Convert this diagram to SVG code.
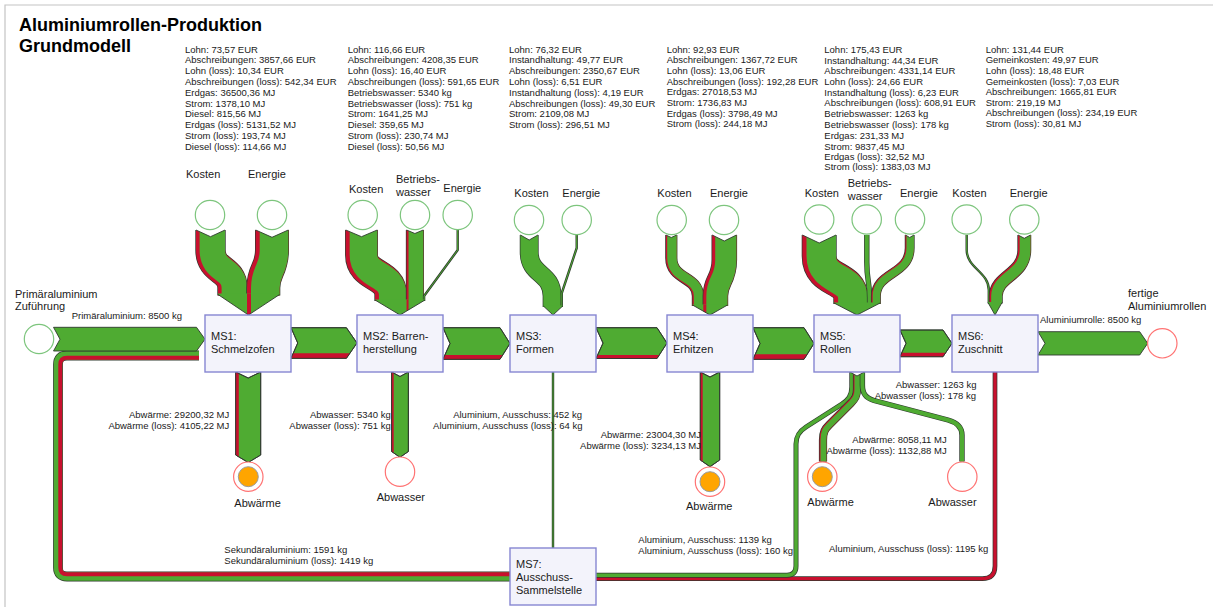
<svg xmlns="http://www.w3.org/2000/svg" width="1213" height="607" viewBox="0 0 1213 607">
<style>
text{font-family:"Liberation Sans",Arial,sans-serif;fill:#1a1a1a}
.s{font-size:9.5px}
.n{font-size:11px}
.ttl{font-size:18px;font-weight:bold;fill:#000}
.e{text-anchor:end}
.box{fill:#f3f3fb;stroke:#8686d2;stroke-width:1.4}
.cg{fill:#fff;stroke:#7dc57d;stroke-width:1.2}
.cr{fill:#fff;stroke:#ff7373;stroke-width:1.2}
.hot{fill:#ffa500;stroke:#9a9a9a;stroke-width:1}
.po{fill:#4fab32;stroke:#2f3a2f;stroke-width:0.9;stroke-linejoin:round}
.o{fill:none;stroke:#2f3a2f;stroke-width:0.9;stroke-linejoin:round}
.rd{fill:#c8102e}
.gf{fill:#4fab32}
.sk{fill:none;stroke:#2f3a2f;stroke-linejoin:round}
.sg{fill:none;stroke:#4fab32;stroke-linejoin:round}
.sr{fill:none;stroke:#c8102e;stroke-linejoin:round}
.wn{fill:#fff}
.fr{fill:none;stroke:#c4c4c4;stroke-width:1.2}
</style>
<defs>
<path id="sek" d="M510,576.5 L67,576.5 Q58,576.5 58,567.5 L58,364.5 Q58,355.5 67,355.5 L199,355.5"/>
<path id="sekr" d="M510,574.25 L67,574.25 Q60.25,574.25 60.25,567.5 L60.25,364.5 Q60.25,357.75 67,357.75 L199,357.75"/>
<path id="r6" d="M995,372 L995,566 Q995,578.7 982.3,578.7 L596,578.7"/>
<path id="a5" d="M851.8,372 L851.8,387 C851.8,396 848,400 842,404 L806,427 C799,431.5 796,436 796,444 L796,566 Q796,575.2 787,575.2 L596,575.2"/>
<path id="h5" d="M857,372 L857,389 C857,396 855,399 851,403 L829,425 C825,429 823,432 823,440 L823,461.5"/>
<path id="s5" d="M862.4,372 L862.4,385 C862.4,394 866,398 874,400.5 L948,420 C957,422.5 962,427 962,435 L962,461.5"/>
<path id="m3" d="M553,372 L553,548"/>
<path id="k1" d="M210.5,230 L210.5,250 C210.5,272 232.5,268 232.5,288 L232.5,295.5"/>
<path id="e1" d="M272,230 L272,250 C272,270 263.3,270 263.3,288 L263.3,295.5"/>
<path id="k2" d="M361.5,230 L361.5,255 C361.5,277 390.8,273 390.8,295 L390.8,301"/>
<path id="w2" d="M414.9,230 L414.9,301"/>
<path id="e2" d="M457.7,230 L457.7,250 L424.1,296 L424.1,301"/>
<path id="k3" d="M529.2,235 L529.2,252 C529.2,276 552.1,272 552.1,296 L552.1,307"/>
<path id="e3" d="M576.7,235 L576.7,248 L561.8,293 L561.8,307"/>
<path id="k4" d="M671.3,235 L671.3,258 C671.3,280 697.9,276 697.9,296 L697.9,306"/>
<path id="e4" d="M724.3,235 L724.3,260 C724.3,280 715.4,280 715.4,296 L715.4,306"/>
<path id="k5" d="M819.2,235 L819.2,256 C819.2,282 850.8,276 850.8,298 L850.8,304"/>
<path id="w5" d="M866.8,235 L866.8,262 C866.8,282 869.6,280 869.6,298 L869.6,304"/>
<path id="e5" d="M909.7,235 L909.7,248 C909.7,275 875.9,272 875.9,296 L875.9,304"/>
<path id="k6" d="M966.7,235 L966.7,250 C966.7,268 988.8,272 988.8,290 L988.8,303.5"/>
<path id="e6" d="M1024.3,235 L1024.3,250 C1024.3,275 995.8,276 995.8,296 L995.8,303.5"/>
<polygon id="hp" points="53.5,327.3 196.5,327.3 205,339.2 196.5,351 53.5,351 60,339.2"/>
<polygon id="h12" points="291,327.7 346.4,327.7 357,343 346.4,358.3 291,358.3 297.7,343"/>
<polygon id="h23" points="443,327.7 500,327.7 510,343.5 500,359.3 443,359.3 450,343.5"/>
<polygon id="h34" points="596,327.7 657,327.7 667,343.1 657,358.5 596,358.5 603,343.1"/>
<polygon id="h45" points="753,327.7 804,327.7 814,343.5 804,359.3 753,359.3 760,343.5"/>
<polygon id="h56" points="900,330 943,330 952,343.35 943,356.7 900,356.7 906,343.35"/>
<polygon id="h6o" points="1038,331.7 1139.7,331.7 1147.7,343.35 1139.7,355 1038,355 1045,343.35"/>
<polygon id="v1" points="235.7,372 248.2,378 260.7,372 260.7,455 248.2,462.5 235.7,455"/>
<polygon id="v2" points="391.6,372 400,376.5 408.4,372 408.4,451.5 400,457.3 391.6,451.5"/>
<polygon id="v4" points="700.3,372 710,377 719.7,372 719.7,460 710,466.7 700.3,460"/>
</defs>

<path class="fr" d="M5,607 V5 H1213"/>
<text class="ttl" x="19" y="31">Aluminiumrollen-Produktion</text>
<text class="ttl" x="19" y="52">Grundmodell</text>

<g id="connectors">
<use href="#sek" class="sk" stroke-width="9.8"/>
<use href="#sek" class="sg" stroke-width="8.4"/>
<use href="#sekr" class="sr" stroke-width="3.9"/>
<use href="#r6" class="sk" stroke-width="4.7"/>
<use href="#r6" class="sr" stroke-width="3.3"/>
<use href="#a5" class="sk" stroke-width="5"/>
<use href="#a5" class="sg" stroke-width="3.6"/>
<use href="#m3" class="sk" stroke-width="2.4"/>
<use href="#m3" class="sg" stroke-width="1"/>

<use href="#hp" class="po"/>
<use href="#h12" class="po"/>
<polygon class="rd" points="293.2,353.3 349.9,353.3 346.4,358.3 291,358.3"/>
<use href="#h12" class="o"/>
<use href="#h23" class="po"/>
<polygon class="rd" points="444.9,355 502.7,355 500,359.3 443,359.3"/>
<use href="#h23" class="o"/>
<use href="#h34" class="po"/>
<polygon class="rd" points="597.6,355 659.3,355 657,358.5 596,358.5"/>
<use href="#h34" class="o"/>
<use href="#h45" class="po"/>
<polygon class="rd" points="755.2,354.3 807.2,354.3 804,359.3 753,359.3"/>
<use href="#h45" class="o"/>
<use href="#h56" class="po"/>
<polygon class="rd" points="901.8,352.7 945.7,352.7 943,356.7 900,356.7"/>
<use href="#h56" class="o"/>
<use href="#h6o" class="po"/>

<use href="#k1" class="sk" stroke-width="30.4"/>
<use href="#k1" class="sr" stroke-width="29"/>
<use href="#k1" class="sg" stroke-width="25.4" transform="translate(1.8 0)"/>
<use href="#e1" class="sk" stroke-width="34"/>
<use href="#e1" class="sr" stroke-width="32.6"/>
<use href="#e1" class="sg" stroke-width="28.6" transform="translate(2 0)"/>
<polygon class="gf" points="218,293.5 279.6,293.5 279.6,294.5 248.5,315 218,294.5"/>
<polygon class="rd" points="247,293.5 251,293.5 251,313.35 248.5,315 247,314"/>
<polyline class="o" points="218,294.5 248.5,315 279.6,294.5"/>
<polygon class="wn" points="196,230 210.5,236.7 225,230"/>
<polyline class="o" points="196,230 210.5,236.7 225,230"/>
<polygon class="wn" points="255.7,230 272,237.3 288.3,230"/>
<polyline class="o" points="255.7,230 272,237.3 288.3,230"/>

<use href="#k2" class="sk" stroke-width="32.9"/>
<use href="#k2" class="sr" stroke-width="31.5"/>
<use href="#k2" class="sg" stroke-width="27.6" transform="translate(1.95 0)"/>
<use href="#w2" class="sk" stroke-width="18.1"/>
<use href="#w2" class="sr" stroke-width="16.7"/>
<use href="#w2" class="sg" stroke-width="14.7" transform="translate(1 0)"/>
<use href="#e2" class="sk" stroke-width="2.4"/>
<use href="#e2" class="sg" stroke-width="1"/>
<polygon class="gf" points="375,299.5 425,299.5 425,300 400,315 375,300"/>
<polygon class="rd" points="406.55,299.5 408.55,299.5 408.55,309.87 406.55,311.07"/>
<polyline class="o" points="375,300 400,315 425,300"/>
<polygon class="wn" points="345.75,230 361.5,236.7 377.25,230"/>
<polyline class="o" points="345.75,230 361.5,236.7 377.25,230"/>
<polygon class="wn" points="406.55,230 414.9,233.5 423.25,230"/>
<polyline class="o" points="406.55,230 414.9,233.5 423.25,230"/>

<use href="#k3" class="sk" stroke-width="18.9"/>
<use href="#k3" class="sg" stroke-width="17.5"/>
<use href="#e3" class="sk" stroke-width="2.4"/>
<use href="#e3" class="sg" stroke-width="1"/>
<polygon class="gf" points="543.4,305.5 562.7,305.5 562.7,306 553,315 543.4,306"/>
<polyline class="o" points="543.4,306 553,315 562.7,306"/>
<polygon class="wn" points="520.45,235 529.2,240 537.95,235"/>
<polyline class="o" points="520.45,235 529.2,240 537.95,235"/>

<use href="#k4" class="sk" stroke-width="12.2"/>
<use href="#k4" class="sr" stroke-width="10.8"/>
<use href="#k4" class="sg" stroke-width="9.5" transform="translate(0.65 0)"/>
<use href="#e4" class="sk" stroke-width="25.6"/>
<use href="#e4" class="sr" stroke-width="24.2"/>
<use href="#e4" class="sg" stroke-width="21.2" transform="translate(1.5 0)"/>
<polygon class="gf" points="692.5,304.5 727.5,304.5 727.5,305 710,315 692.5,305"/>
<polygon class="rd" points="703.3,304.5 706.3,304.5 706.3,312.9 703.3,311.2"/>
<polyline class="o" points="692.5,305 710,315 727.5,305"/>
<polygon class="wn" points="665.9,235 671.3,237.5 676.7,235"/>
<polyline class="o" points="665.9,235 671.3,237.5 676.7,235"/>
<polygon class="wn" points="712.2,235 724.3,241 736.4,235"/>
<polyline class="o" points="712.2,235 724.3,241 736.4,235"/>

<use href="#k5" class="sk" stroke-width="35"/>
<use href="#k5" class="sr" stroke-width="33.6"/>
<use href="#k5" class="sg" stroke-width="29.5" transform="translate(2.05 0)"/>
<use href="#w5" class="sk" stroke-width="5.4"/>
<use href="#w5" class="sg" stroke-width="4"/>
<use href="#e5" class="sk" stroke-width="9.9"/>
<use href="#e5" class="sr" stroke-width="8.5"/>
<use href="#e5" class="sg" stroke-width="7.5" transform="translate(0.5 0)"/>
<polygon class="gf" points="834,302.5 880.1,302.5 880.1,303 857,315 834,303"/>
<polyline class="o" points="834,303 857,315 880.1,303"/>
<polygon class="wn" points="802.4,235 819.2,243 836,235"/>
<polyline class="o" points="802.4,235 819.2,243 836,235"/>
<polygon class="wn" points="905.45,235 909.7,237.5 913.95,235"/>
<polyline class="o" points="905.45,235 909.7,237.5 913.95,235"/>

<use href="#k6" class="sk" stroke-width="2.4"/>
<use href="#k6" class="sg" stroke-width="1"/>
<use href="#e6" class="sk" stroke-width="13.9"/>
<use href="#e6" class="sr" stroke-width="12.5"/>
<use href="#e6" class="sg" stroke-width="10.9" transform="translate(0.8 0)"/>
<polygon class="gf" points="988,302 1002,302 1002,302.5 995,315 988,302.5"/>
<polyline class="o" points="988,302.5 995,315 1002,302.5"/>
<polygon class="wn" points="1018.05,235 1024.3,238.3 1030.55,235"/>
<polyline class="o" points="1018.05,235 1024.3,238.3 1030.55,235"/>

<use href="#v1" class="po"/>
<polygon class="rd" points="235.7,372 238.8,373.5 238.8,456.9 235.7,455"/>
<use href="#v1" class="o"/>
<use href="#v2" class="po"/>
<polygon class="rd" points="391.6,372 393.7,373.1 393.7,453 391.6,451.5"/>
<use href="#v2" class="o"/>
<use href="#v4" class="po"/>
<polygon class="rd" points="700.3,372 702.7,373.2 702.7,461.7 700.3,460"/>
<use href="#v4" class="o"/>

<use href="#h5" class="sk" stroke-width="8.2"/>
<use href="#h5" class="sr" stroke-width="6.8"/>
<use href="#h5" class="sg" stroke-width="5.9" transform="translate(0.45 0)"/>
<use href="#s5" class="sk" stroke-width="5.4"/>
<use href="#s5" class="sg" stroke-width="4"/>
<polygon class="wn" points="850,372 857,376 864.4,372"/>
<polyline class="o" points="850,372 857,376 864.4,372"/>

<text class="s" x="71.7" y="319">Primäraluminium: 8500 kg</text>
<text class="s" x="1040" y="323">Aluminiumrolle: 8500 kg</text>
<text class="s e" x="229.3" y="418">Abwärme: 29200,32 MJ</text>
<text class="s e" x="229.3" y="429">Abwärme (loss): 4105,22 MJ</text>
<text class="s e" x="390.7" y="418">Abwasser: 5340 kg</text>
<text class="s e" x="390.7" y="429">Abwasser (loss): 751 kg</text>
<text class="s e" x="582" y="418">Aluminium, Ausschuss: 452 kg</text>
<text class="s e" x="582.5" y="429">Aluminium, Ausschuss (loss): 64 kg</text>
<text class="s e" x="701" y="437.5">Abwärme: 23004,30 MJ</text>
<text class="s e" x="701" y="448.5">Abwärme (loss): 3234,13 MJ</text>
<text class="s e" x="976.5" y="388">Abwasser: 1263 kg</text>
<text class="s e" x="976" y="399">Abwasser (loss): 178 kg</text>
<text class="s e" x="946.7" y="443">Abwärme: 8058,11 MJ</text>
<text class="s e" x="946.7" y="454">Abwärme (loss): 1132,88 MJ</text>
<text class="s" x="638.3" y="543">Aluminium, Ausschuss: 1139 kg</text>
<text class="s" x="638.3" y="554">Aluminium, Ausschuss (loss): 160 kg</text>
<text class="s" x="829" y="552">Aluminium, Ausschuss (loss): 1195 kg</text>
<text class="s" x="224.3" y="552.5">Sekundäraluminium: 1591 kg</text>
<text class="s" x="224.3" y="563.5">Sekundäraluminium (loss): 1419 kg</text>
</g>

<g id="src-primaer"><circle class="cg" cx="39" cy="339" r="14.7"/><text class="n" x="15" y="297.5">Primäraluminium</text><text class="n" x="15" y="309.5">Zuführung</text></g>
<g id="sink-rollen"><circle class="cr" cx="1162.3" cy="343.3" r="14.7"/><text class="n" x="1128" y="296.5">fertige</text><text class="n" x="1128" y="309.5">Aluminiumrollen</text></g>

<g id="ms1">
<rect class="box" x="205" y="315" width="86" height="57"/>
<text class="n" x="211" y="340">MS1:</text><text class="n" x="211" y="353">Schmelzofen</text>
<text class="s"><tspan x="185" y="52.5">Lohn: 73,57 EUR</tspan><tspan x="185" y="63.3">Abschreibungen: 3857,66 EUR</tspan><tspan x="185" y="74.1">Lohn (loss): 10,34 EUR</tspan><tspan x="185" y="84.9">Abschreibungen (loss): 542,34 EUR</tspan><tspan x="185" y="95.7">Erdgas: 36500,36 MJ</tspan><tspan x="185" y="106.5">Strom: 1378,10 MJ</tspan><tspan x="185" y="117.3">Diesel: 815,56 MJ</tspan><tspan x="185" y="128.1">Erdgas (loss): 5131,52 MJ</tspan><tspan x="185" y="138.9">Strom (loss): 193,74 MJ</tspan><tspan x="185" y="149.7">Diesel (loss): 114,66 MJ</tspan></text>
</g>
<g id="ms1-kosten"><circle class="cg" cx="210" cy="215" r="14.7"/><text class="n" x="186" y="178">Kosten</text></g>
<g id="ms1-energie"><circle class="cg" cx="272" cy="215" r="14.7"/><text class="n" x="248" y="178">Energie</text></g>
<g id="ms1-abwaerme"><circle class="cr" cx="248.3" cy="476.7" r="14.7"/><circle class="hot" cx="248.3" cy="476.7" r="10"/><text class="n" x="234.3" y="506.5">Abwärme</text></g>

<g id="ms2">
<rect class="box" x="357" y="315" width="86" height="57"/>
<text class="n" x="363" y="340">MS2: Barren-</text><text class="n" x="363" y="352.5">herstellung</text>
<text class="s"><tspan x="347.7" y="52.5">Lohn: 116,66 EUR</tspan><tspan x="347.7" y="63.3">Abschreibungen: 4208,35 EUR</tspan><tspan x="347.7" y="74.1">Lohn (loss): 16,40 EUR</tspan><tspan x="347.7" y="84.9">Abschreibungen (loss): 591,65 EUR</tspan><tspan x="347.7" y="95.7">Betriebswasser: 5340 kg</tspan><tspan x="347.7" y="106.5">Betriebswasser (loss): 751 kg</tspan><tspan x="347.7" y="117.3">Strom: 1641,25 MJ</tspan><tspan x="347.7" y="128.1">Diesel: 359,65 MJ</tspan><tspan x="347.7" y="138.9">Strom (loss): 230,74 MJ</tspan><tspan x="347.7" y="149.7">Diesel (loss): 50,56 MJ</tspan></text>
</g>
<g id="ms2-kosten"><circle class="cg" cx="362.7" cy="215" r="14.7"/><text class="n" x="349" y="193">Kosten</text></g>
<g id="ms2-wasser"><circle class="cg" cx="415" cy="215" r="14.7"/><text class="n" x="396" y="183">Betriebs-</text><text class="n" x="396" y="196">wasser</text></g>
<g id="ms2-energie"><circle class="cg" cx="457.7" cy="215" r="14.7"/><text class="n" x="443.3" y="192">Energie</text></g>
<g id="ms2-abwasser"><circle class="cr" cx="400" cy="471.7" r="14.7"/><text class="n" x="376.7" y="501">Abwasser</text></g>

<g id="ms3">
<rect class="box" x="510" y="315" width="86" height="57"/>
<text class="n" x="516" y="340">MS3:</text><text class="n" x="516" y="353">Formen</text>
<text class="s"><tspan x="509" y="52.5">Lohn: 76,32 EUR</tspan><tspan x="509" y="63.3">Instandhaltung: 49,77 EUR</tspan><tspan x="509" y="74.1">Abschreibungen: 2350,67 EUR</tspan><tspan x="509" y="84.9">Lohn (loss): 6,51 EUR</tspan><tspan x="509" y="95.7">Instandhaltung (loss): 4,19 EUR</tspan><tspan x="509" y="106.5">Abschreibungen (loss): 49,30 EUR</tspan><tspan x="509" y="117.3">Strom: 2109,08 MJ</tspan><tspan x="509" y="128.1">Strom (loss): 296,51 MJ</tspan></text>
</g>
<g id="ms3-kosten"><circle class="cg" cx="529" cy="220" r="14.7"/><text class="n" x="514.3" y="197">Kosten</text></g>
<g id="ms3-energie"><circle class="cg" cx="576.7" cy="220" r="14.7"/><text class="n" x="562.3" y="197">Energie</text></g>

<g id="ms4">
<rect class="box" x="667" y="315" width="86" height="57"/>
<text class="n" x="673" y="340">MS4:</text><text class="n" x="673" y="353">Erhitzen</text>
<text class="s"><tspan x="666.7" y="52.5">Lohn: 92,93 EUR</tspan><tspan x="666.7" y="63.3">Abschreibungen: 1367,72 EUR</tspan><tspan x="666.7" y="74.1">Lohn (loss): 13,06 EUR</tspan><tspan x="666.7" y="84.9">Abschreibungen (loss): 192,28 EUR</tspan><tspan x="666.7" y="95">Erdgas: 27018,53 MJ</tspan><tspan x="666.7" y="105.8">Strom: 1736,83 MJ</tspan><tspan x="666.7" y="116.6">Erdgas (loss): 3798,49 MJ</tspan><tspan x="666.7" y="127.4">Strom (loss): 244,18 MJ</tspan></text>
</g>
<g id="ms4-kosten"><circle class="cg" cx="671.7" cy="220" r="14.7"/><text class="n" x="657.3" y="197">Kosten</text></g>
<g id="ms4-energie"><circle class="cg" cx="724" cy="220" r="14.7"/><text class="n" x="710" y="197">Energie</text></g>
<g id="ms4-abwaerme"><circle class="cr" cx="710" cy="481.7" r="14.7"/><circle class="hot" cx="710" cy="481.7" r="10"/><text class="n" x="686" y="510">Abwärme</text></g>

<g id="ms5">
<rect class="box" x="814" y="315" width="86" height="57"/>
<text class="n" x="820" y="340">MS5:</text><text class="n" x="820" y="353">Rollen</text>
<text class="s"><tspan x="824.3" y="52.8">Lohn: 175,43 EUR</tspan><tspan x="824.3" y="63.5">Instandhaltung: 44,34 EUR</tspan><tspan x="824.3" y="74.2">Abschreibungen: 4331,14 EUR</tspan><tspan x="824.3" y="84.9">Lohn (loss): 24,66 EUR</tspan><tspan x="824.3" y="95.6">Instandhaltung (loss): 6,23 EUR</tspan><tspan x="824.3" y="106.3">Abschreibungen (loss): 608,91 EUR</tspan><tspan x="824.3" y="117">Betriebswasser: 1263 kg</tspan><tspan x="824.3" y="127.7">Betriebswasser (loss): 178 kg</tspan><tspan x="824.3" y="139.2">Erdgas: 231,33 MJ</tspan><tspan x="824.3" y="149.5">Strom: 9837,45 MJ</tspan><tspan x="824.3" y="159.8">Erdgas (loss): 32,52 MJ</tspan><tspan x="824.3" y="170.1">Strom (loss): 1383,03 MJ</tspan></text>
</g>
<g id="ms5-kosten"><circle class="cg" cx="819.2" cy="219.5" r="14.7"/><text class="n" x="804.7" y="197">Kosten</text></g>
<g id="ms5-wasser"><circle class="cg" cx="866.7" cy="219.5" r="14.7"/><text class="n" x="847.7" y="187">Betriebs-</text><text class="n" x="847.7" y="199.5">wasser</text></g>
<g id="ms5-energie"><circle class="cg" cx="910" cy="219.5" r="14.7"/><text class="n" x="900" y="197">Energie</text></g>
<g id="ms5-abwaerme"><circle class="cr" cx="822.3" cy="476.7" r="14.7"/><circle class="hot" cx="822.3" cy="476.7" r="10"/><text class="n" x="807.3" y="506">Abwärme</text></g>
<g id="ms5-abwasser"><circle class="cr" cx="962.3" cy="476.7" r="14.7"/><text class="n" x="928.3" y="506">Abwasser</text></g>

<g id="ms6">
<rect class="box" x="952" y="315" width="86" height="57"/>
<text class="n" x="958" y="340">MS6:</text><text class="n" x="958" y="353">Zuschnitt</text>
<text class="s"><tspan x="985.7" y="52.5">Lohn: 131,44 EUR</tspan><tspan x="985.7" y="63.3">Gemeinkosten: 49,97 EUR</tspan><tspan x="985.7" y="74.1">Lohn (loss): 18,48 EUR</tspan><tspan x="985.7" y="84.9">Gemeinkosten (loss): 7,03 EUR</tspan><tspan x="985.7" y="94.7">Abschreibungen: 1665,81 EUR</tspan><tspan x="985.7" y="105.5">Strom: 219,19 MJ</tspan><tspan x="985.7" y="116.3">Abschreibungen (loss): 234,19 EUR</tspan><tspan x="985.7" y="127.1">Strom (loss): 30,81 MJ</tspan></text>
</g>
<g id="ms6-kosten"><circle class="cg" cx="966.7" cy="219.5" r="14.7"/><text class="n" x="952.3" y="197">Kosten</text></g>
<g id="ms6-energie"><circle class="cg" cx="1024.3" cy="219.5" r="14.7"/><text class="n" x="1009.7" y="197">Energie</text></g>

<g id="ms7">
<rect class="box" x="510" y="548" width="86" height="57"/>
<text class="n" x="516" y="567.5">MS7:</text><text class="n" x="516" y="580.5">Ausschuss-</text><text class="n" x="516" y="593.5">Sammelstelle</text>
</g>
</svg>
